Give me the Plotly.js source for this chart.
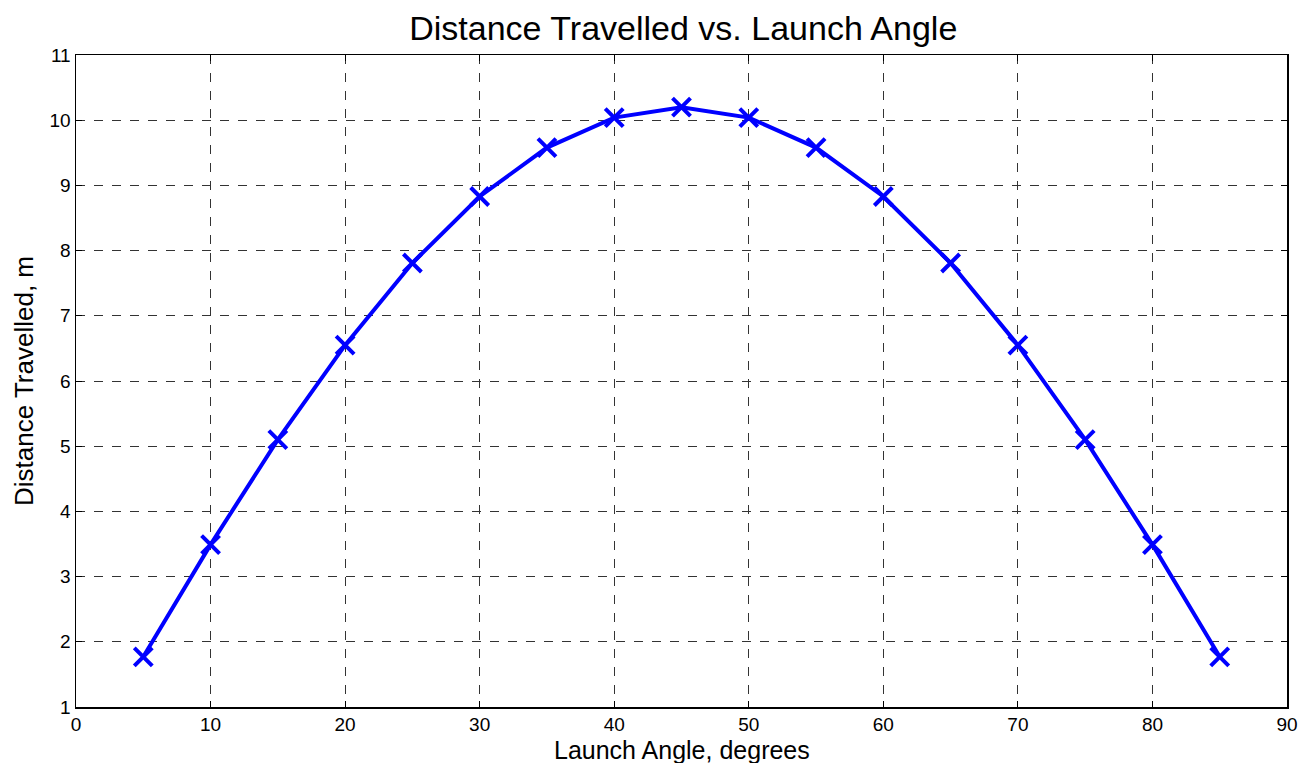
<!DOCTYPE html>
<html><head><meta charset="utf-8">
<script src="https://cdn.plot.ly/plotly-3.0.1.min.js"></script>
<style>html,body{margin:0;padding:0;background:#fff}#c{width:1299px;height:763px}</style>
</head><body><div id="c"></div>
<script>
const angles = [5,10,15,20,25,30,35,40,45,50,55,60,65,70,75,80,85];
const distances = [1.77,3.49,5.10,6.55,7.81,8.83,9.58,10.04,10.20,10.04,9.58,8.83,7.81,6.55,5.10,3.49,1.77];
const xTicks = [0,10,20,30,40,50,60,70,80,90];
const yTicks = [1,2,3,4,5,6,7,8,9,10,11];
const font = "'Liberation Sans', Arial, sans-serif";
const trace = {
  x: angles, y: distances, type: 'scatter', mode: 'lines+markers',
  line: {color: '#0000ff', width: 4},
  marker: {symbol: 'x-thin-open', size: 18, color: '#0000ff', line: {color: '#0000ff', width: 4}},
  showlegend: false, hoverinfo: 'x+y'
};
const axisCommon = {
  showline: true, mirror: 'ticks', linecolor: '#000', linewidth: 1.5,
  ticks: 'inside', ticklen: 6, tickcolor: '#000',
  showgrid: true, gridcolor: '#333', griddash: 'dash', gridwidth: 1,
  zeroline: false
};
const layout = {
  width: 1299, height: 763,
  margin: {l: 76, r: 12, t: 55, b: 56},
  paper_bgcolor: '#fff', plot_bgcolor: '#fff',
  title: {text: 'Distance Travelled vs. Launch Angle', x: 0.526, xanchor: 'center', y: 0.963, yanchor: 'middle',
    font: {family: font, size: 34, color: '#000'}},
  xaxis: Object.assign({}, axisCommon, {range: [0, 90], tickvals: xTicks, ticktext: xTicks.map(String),
    tickfont: {family: font, size: 19, color: '#000'}}),
  yaxis: Object.assign({}, axisCommon, {range: [1, 11], tickvals: yTicks, ticktext: yTicks.map(String),
    tickfont: {family: font, size: 19, color: '#000'},
    title: {text: 'Distance Travelled, m', standoff: 8, font: {family: font, size: 26, color: '#000'}}}),
  annotations: [{
    text: 'Launch Angle, degrees', xref: 'paper', yref: 'paper', x: 0.5, y: -58/652,
    xanchor: 'center', yanchor: 'bottom', showarrow: false, borderpad: 0,
    font: {family: font, size: 25, color: '#000'}
  }]
};
Plotly.newPlot('c', [trace], layout, {displayModeBar: false, staticPlot: true});
</script></body></html>
